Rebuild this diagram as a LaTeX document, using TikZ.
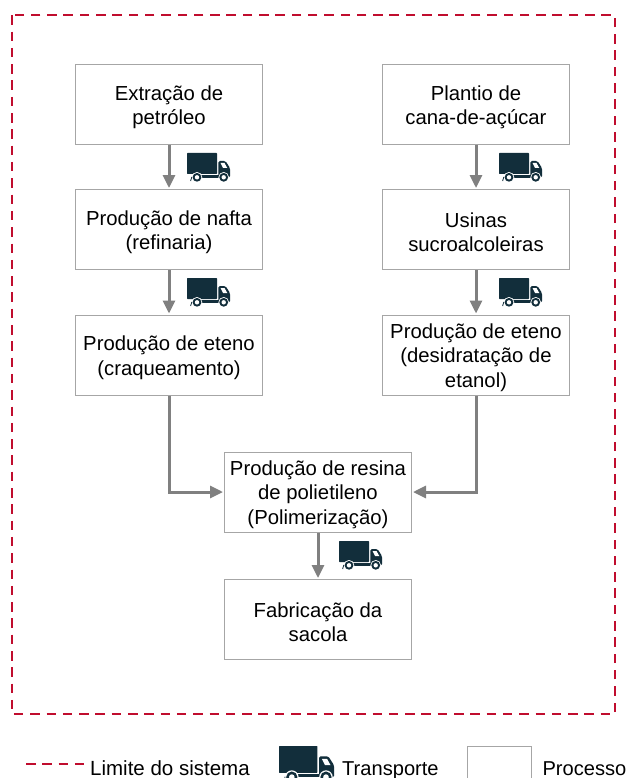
\documentclass[tikz,border=0pt]{standalone}
\usepackage{fontspec}
\setmainfont{Liberation Sans}
\usetikzlibrary{arrows.meta}
\definecolor{boxgray}{HTML}{A6A6A6}
\definecolor{arrowgray}{HTML}{808080}
\definecolor{limitred}{HTML}{C00D2E}
\definecolor{truckblue}{HTML}{122E3B}
\tikzset{
  x=1pt,y=-1pt,
  process/.style={draw=boxgray,line width=1pt,fill=white,minimum width=187pt,minimum height=80pt,inner sep=0pt},
  ptext/.style={inner sep=0pt,align=center,yshift=-2.7pt,font=\fontsize{20.3}{24.5}\selectfont},
  flow/.style={draw=arrowgray,line width=3pt,-{Triangle[length=13pt,width=12pt]},shorten >=1pt},
  limit/.style={draw=limitred,line width=2pt,dash pattern=on 9.5pt off 6.8pt},
  legendtext/.style={inner sep=0pt,anchor=base west,font=\fontsize{20.1}{24}\selectfont},
  truck/.pic={
    \fill[truckblue,rounded corners=0.6pt] (0,0) rectangle (30,21);
    \fill[truckblue,rounded corners=1.5pt] (31.3,8) -- (38.5,8) -- (43,15) -- (43,24.5) -- (31.3,24.5) -- cycle;
    \fill[truckblue] (14,21.7) rectangle (32,24.5);
    \fill[white] (33.5,10) -- (37.5,10) -- (40.3,15) -- (36,15) -- cycle;
    \foreach \cx in {10,36.7}{
      \fill[white] (\cx,24.3) circle (5.3);
      \fill[truckblue] (\cx,24.3) circle (4.4);
      \fill[white] (\cx,24.3) circle (2.2);
    }
    \draw[truckblue,line width=0.8pt] (3.6,28) -- (4.8,24);
  }
}
\begin{document}
\begin{tikzpicture}
\useasboundingbox (0,0) rectangle (626,778);
\fill[white] (0,0) rectangle (626,778);
\draw[limit] (11.7,15.3) rectangle (615,714);
\node[process,label={[ptext]center:{Extração de\\petróleo}}] (a1) at (169,104.5) {};
\node[process,label={[ptext]center:{Produção de nafta\\(refinaria)}}] (a2) at (169,229.5) {};
\node[process,label={[ptext]center:{Produção de eteno\\(craqueamento)}}] (a3) at (169,355) {};
\node[process,label={[ptext]center:{Plantio de\\cana-de-açúcar}}] (b1) at (476,104.5) {};
\node[process,label={[ptext]center:{Usinas\\sucroalcoleiras}}] (b2) at (476,229.5) {};
\node[process,label={[ptext]center:{Produção de eteno\\(desidratação de\\etanol)}}] (b3) at (476,355) {};
\node[process,label={[ptext]center:{Produção de resina\\de polietileno\\(Polimerização)}}] (c) at (318,492) {};
\node[process,label={[ptext]center:{Fabricação da\\sacola}}] (d) at (318,619.5) {};
\draw[flow] (a1) -- (a2);
\draw[flow] (a2) -- (a3);
\draw[flow] (b1) -- (b2);
\draw[flow] (b2) -- (b3);
\draw[flow] (a3) |- (c);
\draw[flow] (b3) |- (c);
\draw[flow] (c) -- (d);
\pic at (187,153) {truck};
\pic at (187,278) {truck};
\pic at (499,153) {truck};
\pic at (499,278) {truck};
\pic at (339,541) {truck};
\coordinate (l1) at (26,764);
\coordinate (l2) at (85.5,764);
\draw[limit] (l1) -- (l2);
\node[legendtext,font=\fontsize{20.5}{24}\selectfont] (t1) at (90,775.7) {Limite do sistema};
\pic[scale=1.28] at (279,746) {truck};
\node[legendtext] (t2) at (342,775) {Transporte};
\node[draw=boxgray,line width=1pt,minimum width=64pt,minimum height=50pt,anchor=north west,inner sep=0pt] (lb) at (467,746) {};
\node[legendtext] (t3) at (542.3,775) {Processo};
\end{tikzpicture}
\end{document}
